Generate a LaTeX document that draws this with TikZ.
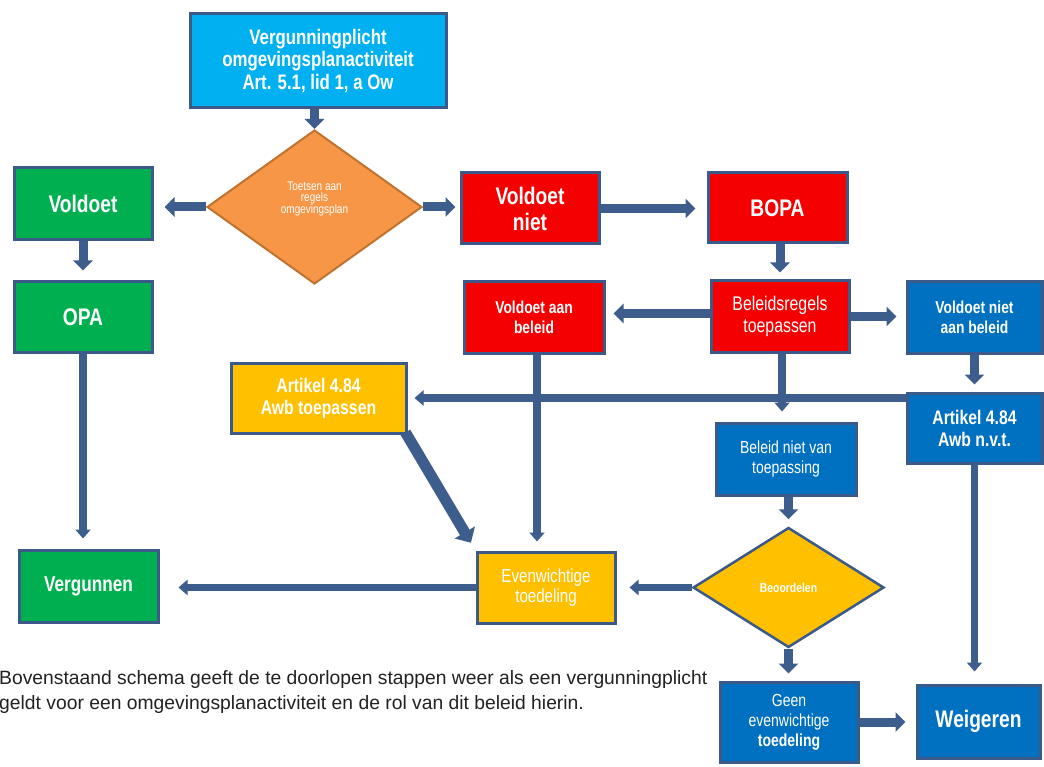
\documentclass[tikz,border=0pt]{standalone}
\usepackage{fontspec}
\setmainfont{Liberation Sans}
\newfontfamily\nf[FakeStretch=0.8]{Liberation Sans}
\usetikzlibrary{arrows.meta,shapes.geometric}
\definecolor{bord}{HTML}{3B5A8A}
\definecolor{arr}{HTML}{3D5D8C}
\definecolor{lblue}{HTML}{00B0F0}
\definecolor{grn}{HTML}{00B050}
\definecolor{rd}{HTML}{F50000}
\definecolor{blu}{HTML}{0070C0}
\definecolor{yel}{HTML}{FFC000}
\definecolor{org}{HTML}{F79646}
\definecolor{orgbord}{HTML}{C0722F}
\definecolor{txt}{HTML}{222222}
\tikzset{
  box/.style={draw=bord, line width=3pt, rectangle, inner sep=0pt, align=center, text=white},
  blk/.style={draw=arr, line width=9pt, -{Triangle[width=19pt,length=10pt]}},
  con/.style={draw=arr, line width=7.5pt, -{Triangle[width=15pt,length=9pt]}},
  bigb/.style={font=\nf\bfseries\fontsize{24}{26}\selectfont},
  midb/.style={font=\nf\bfseries\fontsize{19.7}{22}\selectfont},
  smb/.style={font=\nf\bfseries\fontsize{17.3}{20}\selectfont},
}
\begin{document}
\begin{tikzpicture}[x=1pt,y=-1pt]
\fill[white] (0,0) rectangle (1044,767);
\path[use as bounding box] (0,0) rectangle (1044,767);

% nodes
\node[box, fill=lblue, minimum width=256pt, minimum height=94pt,
  font=\nf\bfseries\fontsize{21}{22.5}\selectfont] (top) at (318,61)
  {Vergunningplicht\\omgevingsplanactiviteit\\Art. 5.1, lid 1, a Ow};
\node[diamond, draw=orgbord, line width=2pt, fill=org, minimum width=215pt, minimum height=154pt,
  inner sep=0pt,
  label={[inner sep=0pt, align=center, text=white, font=\nf\fontsize{12.5}{11}\selectfont, yshift=8pt]center:{Toetsen aan\\regels\\omgevingsplan}}] (d1) at (314.5,207) {};
\node[box, fill=grn, bigb, minimum width=138pt, minimum height=72pt] (voldoet) at (83,204) {Voldoet};
\node[box, fill=grn, bigb, minimum width=138pt, minimum height=70pt] (opa) at (83,317) {OPA};
\node[box, fill=grn, font=\nf\bfseries\fontsize{21.5}{24}\selectfont, minimum width=139pt, minimum height=72pt] (vergunnen) at (88.5,586) {Vergunnen};
\node[box, fill=rd, bigb, minimum width=138pt, minimum height=71pt] (vniet) at (530,208.5) {Voldoet\\niet};
\node[box, fill=rd, bigb, minimum width=139pt, minimum height=70pt] (bopa) at (777.5,208) {BOPA};
\node[box, fill=rd, font=\nf\fontsize{19.8}{21.7}\selectfont, minimum width=138pt, minimum height=71pt] (beleid) at (780,316.5) {Beleidsregels\\toepassen};
\node[box, fill=rd, smb, minimum width=140pt, minimum height=71pt] (vab) at (534,317.5) {Voldoet aan\\beleid};
\node[box, fill=blu, smb, minimum width=135pt, minimum height=71pt] (vnab) at (974.5,317.5) {Voldoet niet\\aan beleid};
\node[box, fill=blu, midb, minimum width=135pt, minimum height=70pt] (nvt) at (974.5,428) {Artikel 4.84\\Awb n.v.t.};
\node[box, fill=yel, midb, minimum width=175pt, minimum height=70pt] (art) at (318.5,398) {Artikel 4.84\\Awb toepassen};
\node[box, fill=blu, font=\nf\fontsize{17.5}{20.7}\selectfont, minimum width=140pt, minimum height=72pt] (bnvt) at (786,459) {Beleid niet van\\toepassing};
\node[box, fill=yel, font=\nf\fontsize{18.9}{20}\selectfont, minimum width=138pt, minimum height=71pt] (even) at (546,587.5) {Evenwichtige\\toedeling};
\node[diamond, draw=bord, line width=2.5pt, fill=yel, minimum width=191pt, minimum height=120pt,
  inner sep=0pt, text=white, font=\nf\bfseries\fontsize{13}{15}\selectfont] (d2) at (788.5,587.5) {Beoordelen};
\node[box, fill=blu, font=\nf\fontsize{17.5}{20}\selectfont, minimum width=138pt, minimum height=80pt] (geen) at (789,722) {Geen\\evenwichtige\\\bfseries toedeling};
\node[box, fill=blu, bigb, minimum width=123pt, minimum height=73pt] (weigeren) at (978.5,721.5) {Weigeren};

\node[anchor=west, inner sep=0pt, align=left, text=txt, font=\fontsize{19.3}{25}\selectfont] (para) at (-1,692.5)
  {Bovenstaand schema geeft de te doorlopen stappen weer als een vergunningplicht\\geldt voor een omgevingsplanactiviteit en de rol van dit beleid hierin.};

% connectors
\draw[blk] (top.south -| d1.north) -- (d1.north);
\draw[blk, shorten >=11pt] (d1.west) -- (voldoet.east |- d1.west);
\draw[blk, shorten >=4pt] (d1.east) -- (vniet.west |- d1.east);
\draw[blk, shorten >=10pt] (voldoet.south) -- (opa.north);
\draw[con, shorten >=10pt] (opa.south) -- (opa.south |- vergunnen.north);
\draw[blk, shorten >=11pt] (vniet.east) -- (bopa.west |- vniet.east);
\draw[blk, shorten >=7pt] (bopa.south -| beleid.north) -- (beleid.north);
\draw[blk, shorten >=8pt] ([yshift=3pt]beleid.west) -- ([yshift=3pt]vab.east |- beleid.west);
\draw[blk, shorten >=9pt] (beleid.east) -- (vnab.west |- beleid.east);
\draw[blk, shorten >=7pt] (vnab.south) -- (vnab.south |- nvt.north);
\draw[con, shorten >=7pt] (nvt.west |- art.east) -- (art.east);
\draw[con, shorten >=9pt] ([xshift=3pt]vab.south) -- ([xshift=3pt]vab.south |- even.north);
\draw[con, shorten >=10pt] ([xshift=2pt]beleid.south) -- ([xshift=2pt]beleid.south |- bnvt.north);
\draw[draw=arr, line width=11pt, -{Triangle[width=23pt,length=12pt]}, shorten >=9pt] ([xshift=-2pt,yshift=2pt]art.south east) -- (even.north west);
\draw[blk, shorten >=7pt] (bnvt.south -| d2.north) -- (d2.north);
\draw[con, shorten >=13pt] (d2.west) -- (even.east |- d2.west);
\draw[con, shorten >=19pt] (even.west) -- (vergunnen.east |- even.west);
\draw[blk, shorten >=7pt] (d2.south) -- (d2.south |- geen.north);
\draw[blk, shorten >=10pt] (geen.east) -- (weigeren.west |- geen.east);
\draw[con, shorten >=12pt] (nvt.south) -- (nvt.south |- weigeren.north);
\end{tikzpicture}
\end{document}
